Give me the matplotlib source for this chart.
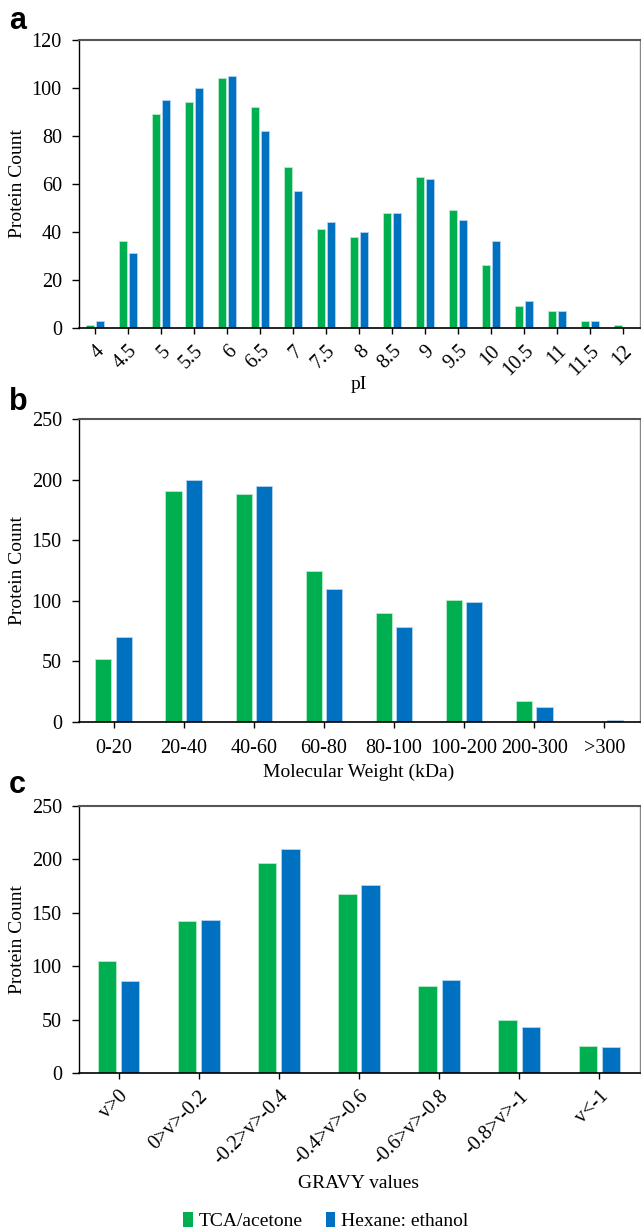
import numpy as np
import matplotlib.pyplot as plt
from matplotlib.patches import Patch

plt.rcParams['font.family'] = ['Liberation Serif', 'DejaVu Serif']

GREEN = '#00B050'
BLUE = '#0070C0'

# panel a: isoelectric point
pi_labels = ['4', '4.5', '5', '5.5', '6', '6.5', '7', '7.5', '8', '8.5',
             '9', '9.5', '10', '10.5', '11', '11.5', '12']
pi_tca = [1, 36, 89, 94, 104, 92, 67, 41, 38, 48, 63, 49, 26, 9, 7, 3, 1]
pi_hex = [3, 31, 95, 100, 105, 82, 57, 44, 40, 48, 62, 45, 36, 11, 7, 3, 0]

# panel b: molecular weight
mw_labels = ['0-20', '20-40', '40-60', '60-80', '80-100', '100-200', '200-300', '>300']
mw_tca = [52, 191, 188, 125, 90, 101, 17, 0]
mw_hex = [70, 200, 195, 110, 78, 99, 12, 2]

# panel c: GRAVY
gr_labels = ['v>0', '0>v>-0.2', '-0.2>v>-0.4', '-0.4>v>-0.6',
             '-0.6>v>-0.8', '-0.8>v>-1', 'v<-1']
gr_tca = [105, 142, 197, 168, 81, 50, 25]
gr_hex = [86, 143, 210, 176, 87, 43, 24]

W, H = 641, 1230
fig = plt.figure(figsize=(W / 100, H / 100), dpi=100)


def panel(rect, labels, tca, hex_, ymax, ystep, xlabel, rot, xlab_y):
    ax = fig.add_axes(rect)
    x = np.arange(len(labels))
    bw = 0.23
    off = 0.145
    ax.bar(x - off, tca, bw, color=GREEN, edgecolor='#b8ecc9', linewidth=0.6)
    ax.bar(x + off, hex_, bw, color=BLUE, edgecolor='#b3d3ef', linewidth=0.6)
    ax.set_xlim(-0.5, len(labels) - 0.5)
    ax.set_ylim(0, ymax)
    ax.set_yticks(np.arange(0, ymax + 1, ystep))
    ax.set_xticks(x)
    if rot:
        ax.set_xticklabels(labels, rotation=45, ha='right', va='top',
                           rotation_mode='anchor')
        ax.tick_params(axis='x', pad=6)
    else:
        ax.set_xticklabels(labels)
        ax.tick_params(axis='x', pad=8)
    ax.tick_params(axis='y', length=5, width=1, labelsize=14.5, pad=7)
    ax.tick_params(axis='x', length=4, width=1, labelsize=14.5)
    ax.spines['top'].set_color('#555555')
    ax.spines['top'].set_linewidth(1.5)
    ax.spines['right'].set_color('#888888')
    ax.spines['right'].set_linewidth(1.0)
    ax.spines['left'].set_linewidth(1.0)
    ax.spines['bottom'].set_linewidth(1.2)
    fig.text(18 / W, rect[1] + rect[3] / 2, 'Protein Count', rotation=90,
             ha='center', va='center', fontsize=14)
    fig.text(rect[0] + rect[2] / 2, 1 - xlab_y / H, xlabel,
             ha='center', va='center', fontsize=14)
    return ax


axa = panel([78.5 / W, 1 - 327.7 / H, 561 / W, 287.7 / H], pi_labels, pi_tca, pi_hex,
            120, 20, 'pI', True, 384)
axb = panel([78.5 / W, 1 - 722 / H, 561 / W, 303 / H], mw_labels, mw_tca, mw_hex,
            250, 50, 'Molecular Weight (kDa)', False, 772)
axc = panel([78.5 / W, 1 - 1073 / H, 561 / W, 267 / H], gr_labels, gr_tca, gr_hex,
            250, 50, 'GRAVY values', True, 1183)

for letter, ytop in [('a', 21), ('b', 402), ('c', 785)]:
    fig.text(9 / W, 1 - ytop / H, letter, fontsize=22, fontweight='bold',
             family=['Liberation Sans', 'DejaVu Sans'], ha='left', va='center')

handles = [Patch(facecolor=GREEN, label='TCA/acetone'),
           Patch(facecolor=BLUE, label='Hexane: ethanol')]
fig.legend(handles=handles, loc='center', bbox_to_anchor=(0.508, 1 - 1221 / H),
           ncol=2, frameon=False, fontsize=14, handlelength=0.5, handleheight=0.8,
           handletextpad=0.3, columnspacing=1.2)

fig.savefig('out.png', dpi=100)
